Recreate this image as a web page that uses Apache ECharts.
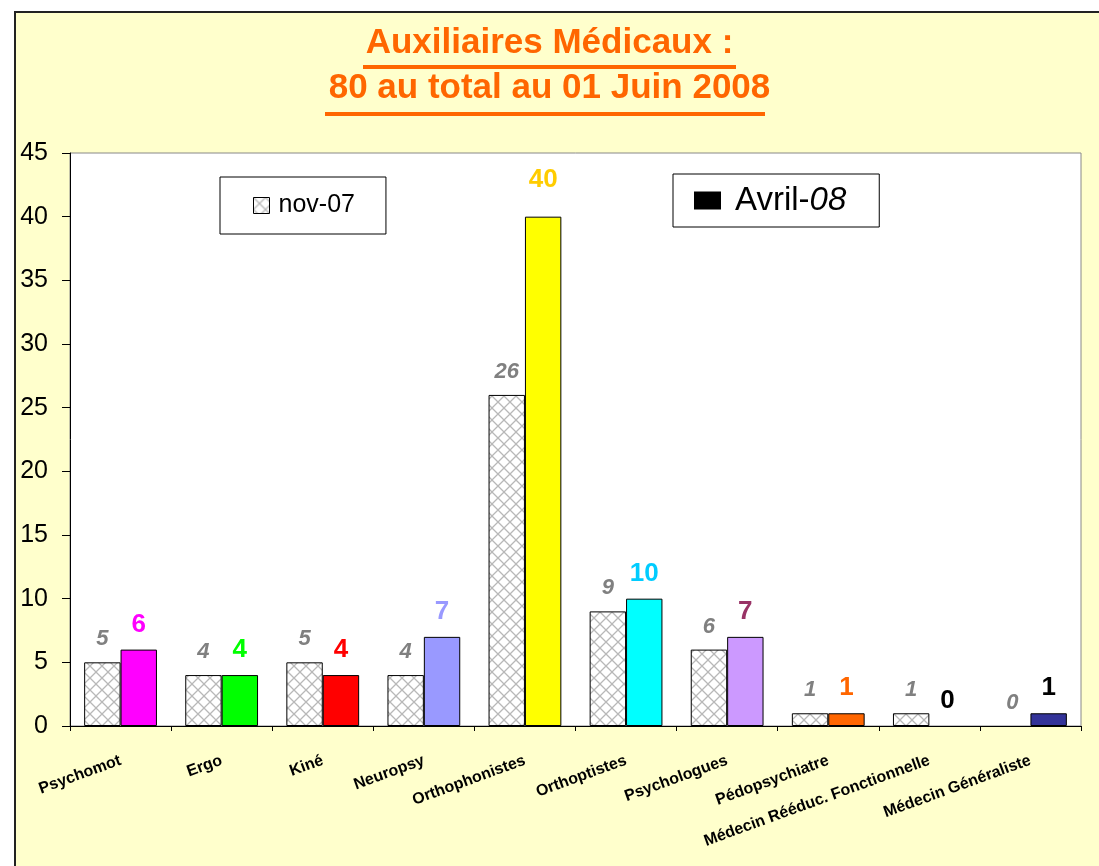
<!DOCTYPE html>
<html>
<head>
<meta charset="utf-8">
<script src="https://cdn.jsdelivr.net/npm/echarts@6/dist/echarts.min.js"></script>
<style>
  html, body { margin: 0; padding: 0; background: #ffffff; }
  #bg { position: absolute; left: 14px; top: 11px; width: 1085px; height: 855px;
        background: #FFFFCC; border-left: 2px solid #222; border-top: 2px solid #222; box-sizing: border-box; }
  #chart { position: absolute; left: 0; top: 0; width: 1099px; height: 866px; }
</style>
</head>
<body>
<div id="bg"></div>
<div id="chart"></div>
<script>
const categories = ['Psychomot', 'Ergo', 'Kiné', 'Neuropsy', 'Orthophonistes', 'Orthoptistes',
  'Psychologues', 'Pédopsychiatre', 'Médecin Rééduc. Fonctionnelle', 'Médecin Généraliste'];
const seriesNames = ['nov-07', 'Avril-08'];
const nov07 = [5, 4, 5, 4, 26, 9, 6, 1, 1, 0];
const avril08 = [6, 4, 4, 7, 40, 10, 7, 1, 0, 1];
const yTicks = { min: 0, max: 45, interval: 5 };
const titleLines = ['Auxiliaires Médicaux :', '80 au total au 01 Juin 2008'];

// style arrays (colours only)
const avrilBarColors = ['#FF00FF', '#00FF00', '#FF0000', '#9999FF', '#FFFF00', '#00FFFF',
  '#CC99FF', '#FF6600', '#000000', '#333399'];
const avrilLabelColors = ['#FF00FF', '#00FF00', '#FF0000', '#9999FF', '#FFCC00', '#00CCFF',
  '#993366', '#FF6600', '#000000', '#000000'];
// label nudge (the "40" label sits higher in the original)
const avrilLabelNudge = [0, 0, 0, 0, -12, 0, 0, 0, 0, 0];

// cross-hatch pattern
const pc = document.createElement('canvas');
pc.width = 12; pc.height = 12;
const ctx = pc.getContext('2d');
ctx.fillStyle = '#ffffff';
ctx.fillRect(0, 0, 12, 12);
ctx.strokeStyle = '#b8b8b8';
ctx.lineWidth = 1.3;
ctx.beginPath();
ctx.moveTo(0, 0); ctx.lineTo(12, 12);
ctx.moveTo(12, 0); ctx.lineTo(0, 12);
ctx.stroke();
const hatch = { image: pc, repeat: 'repeat' };

const chart = echarts.init(document.getElementById('chart'), null, { renderer: 'canvas' });
const font = "Arial, 'Liberation Sans', sans-serif";
const titleStyle = { fontSize: 35, fontWeight: 'bold', color: '#FF6600', fontFamily: font };

const option = {
  backgroundColor: 'transparent',
  textStyle: { fontFamily: font },
  title: [
    { text: titleLines[0], left: 'center', top: 26, padding: 0, textStyle: titleStyle },
    { text: titleLines[1], left: 'center', top: 71, padding: 0, textStyle: titleStyle }
  ],
  graphic: [
    { type: 'rect', shape: { x: 363, y: 65, width: 373, height: 4 }, style: { fill: '#FF6600' } },
    { type: 'rect', shape: { x: 325, y: 112, width: 440, height: 4 }, style: { fill: '#FF6600' } }
  ],
  legend: [
    {
      data: [seriesNames[0]],
      left: 220, top: 177,
      backgroundColor: '#ffffff', borderColor: '#000', borderWidth: 1,
      padding: [16, 31, 16, 33],
      icon: 'rect',
      itemWidth: 16, itemHeight: 16,
      itemStyle: { borderColor: '#000', borderWidth: 1 },
      textStyle: { fontSize: 25, color: '#000', fontFamily: font, padding: [0, 0, 0, 4] }
    },
    {
      data: [seriesNames[1]],
      left: 673, top: 174,
      backgroundColor: '#ffffff', borderColor: '#000', borderWidth: 1,
      padding: [10, 33, 10, 21],
      icon: 'rect',
      itemWidth: 25, itemHeight: 16,
      formatter: () => '{a|Avril-}{b|08}',
      textStyle: {
        fontSize: 33, color: '#000', fontFamily: font, padding: [0, 0, 0, 10],
        rich: {
          a: { fontSize: 33, color: '#000', fontFamily: font },
          b: { fontSize: 33, color: '#000', fontStyle: 'italic', fontFamily: font }
        }
      }
    }
  ],
  grid: { left: 70, top: 153, right: 18, bottom: 140, show: true, backgroundColor: '#ffffff', borderColor: '#888', borderWidth: 1 },
  xAxis: {
    type: 'category',
    data: categories,
    axisLine: { lineStyle: { color: '#000', width: 1 } },
    axisTick: { show: true, length: 5, lineStyle: { color: '#000' } },
    axisLabel: { rotate: 20, margin: 34, interval: 0, fontSize: 16, fontWeight: 'bold', color: '#000', fontFamily: font }
  },
  yAxis: {
    type: 'value',
    min: yTicks.min, max: yTicks.max, interval: yTicks.interval,
    axisLine: { show: true, lineStyle: { color: '#000', width: 1 } },
    axisTick: { show: true, length: 8, lineStyle: { color: '#000' } },
    splitLine: { show: false },
    axisLabel: { fontSize: 25, color: '#000', margin: 22, fontFamily: font }
  },
  series: [
    {
      name: seriesNames[0],
      type: 'bar',
      data: nov07.map(v => ({ value: v, itemStyle: v === 0 ? { borderWidth: 0 } : {} })),
      barGap: '0%',
      barCategoryGap: '28%',
      itemStyle: { color: hatch, borderColor: '#000', borderWidth: 1 },
      label: { show: true, position: 'top', distance: 12, fontSize: 22, fontWeight: 'bold', fontStyle: 'italic', color: '#808080', fontFamily: font }
    },
    {
      name: seriesNames[1],
      type: 'bar',
      data: avril08.map((v, i) => ({
        value: v,
        itemStyle: v === 0 ? { color: avrilBarColors[i], borderWidth: 0 } : { color: avrilBarColors[i] },
        label: { color: avrilLabelColors[i], offset: [0, avrilLabelNudge[i]] }
      })),
      barGap: '0%',
      barCategoryGap: '28%',
      itemStyle: { color: '#000000', borderColor: '#000', borderWidth: 1 },
      label: { show: true, position: 'top', distance: 12, fontSize: 26, fontWeight: 'bold', fontFamily: font }
    }
  ]
};
chart.setOption(option);
</script>
</body>
</html>
